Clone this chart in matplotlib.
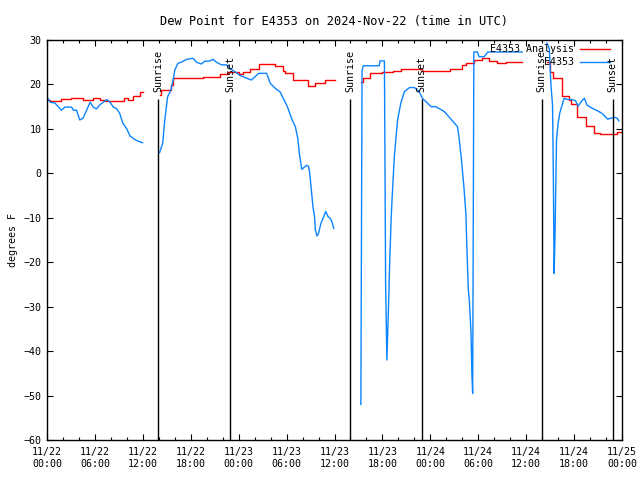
import numpy as np
import matplotlib.pyplot as plt
from matplotlib.lines import Line2D

plt.rcParams['font.family'] = ['DejaVu Sans Mono']
plt.rcParams['font.size'] = 7.2

# hours since 2024-11-22 00:00 UTC
tick_hours = list(range(0, 73, 6))
tick_labels = ["11/22\n00:00", "11/22\n06:00", "11/22\n12:00", "11/22\n18:00",
               "11/23\n00:00", "11/23\n06:00", "11/23\n12:00", "11/23\n18:00",
               "11/24\n00:00", "11/24\n06:00", "11/24\n12:00", "11/24\n18:00",
               "11/25\n00:00"]

sun_hours = [13.92, 22.9, 37.95, 46.9, 61.95, 70.85]
sun_names = ["Sunrise", "Sunset", "Sunrise", "Sunset", "Sunrise", "Sunset"]

# E4353 Analysis (red), NaN marks gaps
red_h = [0, 0.4, 1.8, 3.0, 4.5, 5.8, 6.6, 7.3, 9.7, 10.2, 10.8, 11.6, 12.0, np.nan,
         14.1, 14.3, 15.5, 15.8, 17.5, 18.7, 19.5, 21.6, 22.7, 24.1, 24.5, 25.4,
         26.6, 28.5, 29.5, 29.75, 30.8, 32.7, 33.5, 34.75, 36.0, np.nan,
         39.3, 39.6, 40.4, 42.0, 43.3, 44.3, 47.0, 50.5, 52.0, 52.5, 53.5, 54.5,
         55.4, 56.3, 57.5, 59.5, np.nan,
         62.6, 63.0, 63.3, 64.5, 65.4, 65.6, 66.4, 67.5, 68.5, 69.3, 71.4, 72.0]
red_v = [16.6, 16.3, 16.7, 16.9, 16.5, 16.9, 16.4, 16.2, 16.9, 16.5, 17.5, 18.3, 18.3, np.nan,
         17.6, 18.7, 19.9, 21.4, 21.5, 21.4, 21.7, 22.3, 22.7, 22.3, 22.9, 23.5,
         24.5, 24.2, 23.0, 22.5, 21.0, 19.7, 20.3, 21.0, 21.0, np.nan,
         20.6, 21.4, 22.5, 22.7, 23.0, 23.4, 23.0, 23.4, 24.4, 24.9, 25.4, 25.9,
         25.3, 24.9, 25.1, 25.1, np.nan,
         25.0, 22.8, 21.4, 17.3, 16.6, 15.6, 12.6, 10.65, 9.15, 8.85, 9.2, 9.2]

# E4353 observations (blue)
blue_h = [0, 0.4, 1.0, 1.8, 2.25, 3.08, 3.3, 3.7, 4.1, 4.5, 4.96, 5.4, 5.8, 6.2, 6.6,
          7.04, 7.5, 7.9, 8.3, 8.7, 9.1, 9.5, 9.96, 10.4, 11.0, 11.6, 11.96, np.nan,
          14.1, 14.5, 14.7, 14.9, 15.1, 15.5, 15.8, 16.0, 16.4, 16.8, 17.5, 18.3, 18.7,
          19.3, 19.75, 20.4, 20.8, 21.2, 21.85, 22.5, 22.9, 23.5, 24.1, 25.0, 25.6,
          26.5, 27.5, 27.96, 28.6, 29.2, 30.1, 30.7, 31.1, 31.4, 31.6, 31.9, 32.5,
          32.75, 32.9, 33.1, 33.3, 33.5, 33.6, 33.8, 34.0, 34.3, 34.6, 34.9, 35.2,
          35.5, 35.7, 35.9, np.nan,
          39.3, 39.45, 39.6, 41.6, 41.7, 42.25, 42.4, 42.56, 42.8, 42.9, 43.0, 43.1,
          43.2, 43.5, 43.9, 44.3, 44.75, 45.4, 46.0, 46.6, 47.0, 48.1, 48.7, 49.75,
          51.4, 51.6, 51.9, 52.2, 52.45, 52.6, 52.75, 52.9, 53.1, 53.2, 53.3, 53.45,
          53.9, 54.1, 54.75, 55.2, 59.5, np.nan,
          62.6, 62.9, 63.1, 63.3, 63.4, 63.5, 63.6, 63.7, 63.8, 64.0, 64.2, 64.5,
          64.75, 65.2, 65.8, 66.2, 66.5, 66.96, 67.3, 67.6, 68.3, 68.9, 69.5, 70.2,
          70.6, 71.1, 71.4, 71.6]
blue_v = [17.2, 16.0, 15.8, 14.2, 14.9, 14.9, 14.2, 14.2, 12.0, 12.4, 14.2, 16.0, 14.9, 14.5, 15.4,
          16.0, 16.6, 16.0, 14.9, 14.6, 13.5, 11.25, 10.1, 8.4, 7.6, 7.1, 6.9, np.nan,
          4.65, 6.9, 11.25, 14.2, 17.2, 18.7, 21.0, 23.25, 24.75, 25.0, 25.65, 25.9, 25.0,
          24.6, 25.2, 25.3, 25.65, 25.0, 24.4, 24.4, 23.6, 22.9, 22.1, 21.4, 21.0,
          22.5, 22.5, 20.25, 19.1, 18.3, 15.0, 12.0, 10.5, 7.9, 4.5, 0.9, 1.8,
          1.6, 0.0, -3.75, -7.5, -9.75, -12.75, -14.1, -13.5, -11.25, -10.0, -8.6, -9.75,
          -10.2, -11.0, -12.4, np.nan,
          -52.0, 23.1, 24.2, 24.2, 25.3, 25.3, -24.7, -42.0, -27.8, -20.6, -15.4, -10.0,
          -6.0, 4.0, 12.0, 15.75, 18.4, 19.3, 19.3, 18.4, 16.9, 15.0, 15.0, 13.9,
          10.5, 8.0, 3.0, -3.0, -9.0, -18.0, -26.0, -29.0, -36.0, -45.0, -49.5, 27.3,
          27.3, 26.25, 26.25, 27.3, 27.3, np.nan,
          29.3, 28.0, 20.0, 15.4, 0.0, -22.5, -15.0, -3.75, 7.5, 11.25, 13.5, 15.4,
          16.9, 16.6, 16.6, 16.3, 15.1, 16.3, 16.9, 15.4, 14.6, 14.1, 13.5, 12.2,
          12.4, 12.6, 12.4, 11.8]

red = '#ff0000'
blue = '#0a84ff'

fig = plt.figure(figsize=(6.4, 4.8), dpi=100)
ax = fig.add_axes([47 / 640, 40 / 480, 575 / 640, 400 / 480])

ax.plot(red_h, red_v, color=red, lw=1.0, drawstyle='steps-post')
ax.plot(blue_h, blue_v, color=blue, lw=1.0)

for h, name in zip(sun_hours, sun_names):
    ax.vlines(h, -60, 16.8, color='black', lw=1.0)
    ax.text(h, 18.2, name, rotation=90, ha='center', va='bottom')

ax.set_xlim(0, 72)
ax.set_ylim(-60, 30)
ax.set_xticks(tick_hours)
ax.set_xticklabels(tick_labels)
ax.set_xticks(range(0, 73, 2), minor=True)
ax.set_yticks(range(-60, 31, 10))
ax.tick_params(direction='in', top=True, right=True, length=4.5, width=0.8, pad=5)
ax.tick_params(axis='y', pad=4)
ax.tick_params(which='minor', direction='in', top=True, length=2.2, width=0.8)
for s in ax.spines.values():
    s.set_linewidth(1.0)

ax.set_title("Dew Point for E4353 on 2024-Nov-22 (time in UTC)", pad=11)
ax.set_ylabel("degrees F", labelpad=4)

# key, top right
ax.text(0.9165, 0.9775, "E4353 Analysis", transform=ax.transAxes, ha='right', va='center')
ax.text(0.9165, 0.945, "E4353", transform=ax.transAxes, ha='right', va='center')
ax.add_line(Line2D([0.927, 0.979], [0.9775, 0.9775], color=red, lw=1.0, transform=ax.transAxes))
ax.add_line(Line2D([0.927, 0.979], [0.945, 0.945], color=blue, lw=1.0, transform=ax.transAxes))

fig.savefig('out.png', dpi=100)
